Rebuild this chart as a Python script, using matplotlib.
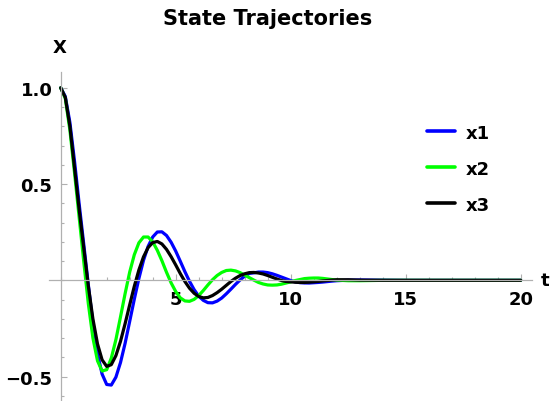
import matplotlib
matplotlib.use("Agg")
import matplotlib.pyplot as plt
from matplotlib.ticker import MultipleLocator, FixedLocator

plt.rcParams['font.family'] = ['DejaVu Sans']
plt.rcParams['axes.unicode_minus'] = True

# sample times of the simulated response
t = [0.0, 0.2, 0.4, 0.6, 0.8, 1.0, 1.2, 1.4, 1.6, 1.8,
     2.0, 2.2, 2.4, 2.6, 2.8, 3.0, 3.2, 3.4, 3.6, 3.8,
     4.0, 4.2, 4.4, 4.6, 4.8, 5.0, 5.2, 5.4, 5.6, 5.8,
     6.0, 6.2, 6.4, 6.6, 6.8, 7.0, 7.2, 7.4, 7.6, 7.8,
     8.0, 8.2, 8.4, 8.6, 8.8, 9.0, 9.2, 9.4, 9.6, 9.8,
     10.0, 10.2, 10.4, 10.6, 10.8, 11.0, 11.2, 11.4, 11.6, 11.8,
     12.0, 12.5, 13.0, 14.0, 15.0, 16.0, 17.0, 18.0, 19.0, 20.0]

x1 = [1.0, 0.955, 0.82, 0.62, 0.40, 0.19, -0.022, -0.224, -0.381, -0.487,
      -0.541, -0.544, -0.503, -0.427, -0.327, -0.213, -0.098, 0.010, 0.104, 0.176,
      0.225, 0.251, 0.252, 0.233, 0.198, 0.152, 0.099, 0.045, -0.005, -0.048,
      -0.082, -0.104, -0.116, -0.117, -0.108, -0.092, -0.070, -0.046, -0.021, 0.002,
      0.022, 0.036, 0.039, 0.043, 0.043, 0.040, 0.034, 0.026, 0.017, 0.008,
      -0.001, -0.008, -0.012, -0.0135, -0.014, -0.0125, -0.011, -0.009, -0.0065, -0.004,
      -0.002, 0.001, 0.002, 0.001, 0.0, 0.0, 0.0, 0.0, 0.0, 0.0]

x2 = [1.0, 0.945, 0.78, 0.56, 0.33, 0.10, -0.120, -0.299, -0.418, -0.471,
      -0.464, -0.404, -0.308, -0.190, -0.069, 0.043, 0.133, 0.195, 0.225, 0.225,
      0.200, 0.156, 0.102, 0.042, -0.013, -0.058, -0.091, -0.107, -0.109, -0.099,
      -0.079, -0.053, -0.024, 0.003, 0.025, 0.041, 0.051, 0.053, 0.049, 0.040,
      0.027, 0.014, 0.001, -0.011, -0.019, -0.024, -0.025, -0.024, -0.020, -0.014,
      -0.008, -0.001, 0.004, 0.009, 0.011, 0.012, 0.012, 0.010, 0.007, 0.004,
      0.001, -0.002, -0.002, 0.0, 0.0, 0.0, 0.0, 0.0, 0.0, 0.0]

x3 = [1.0, 0.95, 0.80, 0.585, 0.37, 0.17, -0.029, -0.200, -0.330, -0.413,
      -0.447, -0.438, -0.391, -0.317, -0.225, -0.127, -0.031, 0.054, 0.122, 0.170,
      0.196, 0.202, 0.189, 0.161, 0.123, 0.080, 0.035, -0.006, -0.041, -0.067,
      -0.084, -0.091, -0.089, -0.079, -0.064, -0.046, -0.026, -0.006, 0.011, 0.025,
      0.034, 0.040, 0.041, 0.038, 0.033, 0.025, 0.016, 0.007, -0.001, -0.006,
      -0.008, -0.010, -0.011, -0.011, -0.0096, -0.0078, -0.0056, -0.0031, -0.0008, 0.0013,
      0.003, 0.003, 0.001, 0.0, 0.0, 0.0, 0.0, 0.0, 0.0, 0.0]

series = [("x1", x1, "#0000ff"), ("x2", x2, "#00ff00"), ("x3", x3, "#000000")]

x_major = [5, 10, 15, 20]
y_major = [-0.5, 0.5, 1.0]
y_labels = ["\u22120.5", "0.5", "1.0"]

W, H = 550, 402
fig = plt.figure(figsize=(W / 100, H / 100), dpi=100)
ax = fig.add_axes([49.2 / W, (H - 400.7) / H, 483 / W, (400.7 - 73.4) / H])
ax.set_xlim(-0.5, 20.5)
ax.set_ylim(-0.62, 1.08)

for name, ys, col in series:
    ax.plot(t, ys, color=col, lw=2.3, label=name,
            solid_joinstyle="round", solid_capstyle="round")

axis_grey = "#b0b0b0"
for side in ("top", "right"):
    ax.spines[side].set_visible(False)
ax.spines["left"].set_position(("data", 0))
ax.spines["bottom"].set_position(("data", 0))
for side in ("left", "bottom"):
    ax.spines[side].set_color(axis_grey)
    ax.spines[side].set_linewidth(0.9)

ax.xaxis.set_major_locator(FixedLocator(x_major))
ax.xaxis.set_minor_locator(MultipleLocator(1))
ax.yaxis.set_major_locator(FixedLocator(y_major))
ax.yaxis.set_minor_locator(MultipleLocator(0.1))
ax.set_xticklabels([str(v) for v in x_major])
ax.set_yticklabels(y_labels)

ax.tick_params(which="both", direction="in", color=axis_grey, width=0.8)
ax.tick_params(which="major", length=4.0)
ax.tick_params(which="minor", length=2.2)
ax.tick_params(axis="x", which="major", pad=7)
ax.tick_params(axis="y", which="major", pad=6)
for lab in ax.get_xticklabels() + ax.get_yticklabels():
    lab.set_fontsize(13)
    lab.set_fontweight("bold")

fig.text(268 / W, 1 - 19 / H, "State Trajectories", ha="center", va="center",
         fontsize=15, fontweight="bold")
fig.text(60 / W, 1 - 48 / H, "X", ha="center", va="center", fontsize=13, fontweight="bold")
fig.text(545 / W, 1 - 281 / H, "t", ha="center", va="center", fontsize=13, fontweight="bold")

leg = ax.legend(loc="center left", bbox_to_anchor=(427 / W, 1 - 169.7 / H),
                bbox_transform=fig.transFigure, frameon=False,
                prop={"size": 13, "weight": "bold"}, handlelength=1.55,
                handletextpad=0.6, labelspacing=1.0, borderpad=0, borderaxespad=0)
for line in leg.get_lines():
    line.set_linewidth(2.6)

fig.savefig("out.png", dpi=100)
